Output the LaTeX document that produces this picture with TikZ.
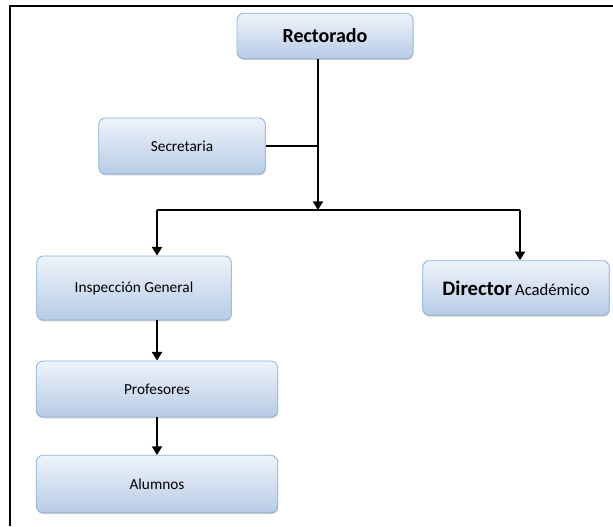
\documentclass[tikz,border=0pt]{standalone}
\usepackage{fontspec}
\setmainfont{Carlito}
\usepackage{tikz}
\usetikzlibrary{arrows.meta,shadows}
\definecolor{boxtop}{HTML}{EEF3FA}
\definecolor{boxbot}{HTML}{B7CCE6}
\definecolor{boxline}{HTML}{8EB2DB}

\begin{document}
\begin{tikzpicture}[x=0.75pt,y=-0.75pt,
 box/.style={draw=boxline,line width=0.6pt,rounded corners=5pt,
  top color=boxtop,bottom color=boxbot,
  drop shadow={shadow xshift=0.4pt,shadow yshift=-1pt,opacity=0.4},
  inner sep=0pt,text=black},
 big/.style={font=\fontsize{15}{17}\selectfont\bfseries},
 small/.style={font=\fontsize{11.5}{13}\selectfont},
 link/.style={line width=1.6pt,-{Triangle[width=7.5pt,length=6.5pt]}},
 thin/.style={line width=0.9pt}]

 \useasboundingbox (0,0) rectangle (613,526);
 \draw[line width=2.2pt] (10,526) -- (10,6) -- (613,6);

 \node[box,big,minimum width=132pt,minimum height=34pt] (rect) at (325,36) {Rectorado};
 \node[box,small,minimum width=125pt,minimum height=42pt] (secr) at (182,146) {Secretaria};
 \node[box,small,minimum width=146pt,minimum height=48pt] (insp) at (134,288) {Inspección General};
 \node[box,minimum width=140pt,minimum height=41pt] (dir) at (516,288)
  {{\fontsize{15.5}{17}\selectfont\bfseries Director} {\fontsize{12.5}{14}\selectfont Académico}};
 \node[box,small,minimum width=181pt,minimum height=42pt] (prof) at (157,389) {Profesores};
 \node[box,small,minimum width=181pt,minimum height=43pt] (alum) at (157,484) {Alumnos};

 \coordinate (j) at (318,210);
 \coordinate (hl) at (157,210);
 \coordinate (hr) at (520,210);

 \draw[link] (rect.south -| j) -- (j);
 \draw[thin] (secr.east) -- (secr.east -| j);
 \draw[thin] (hl) -- (hr);
 \draw[link] (hl) -- (insp.north -| hl);
 \draw[link] (hr) -- (dir.north -| hr);
 \draw[link] (insp.south -| prof) -- (prof.north);
 \draw[link] (prof.south) -- (alum.north);

\end{tikzpicture}
\end{document}
